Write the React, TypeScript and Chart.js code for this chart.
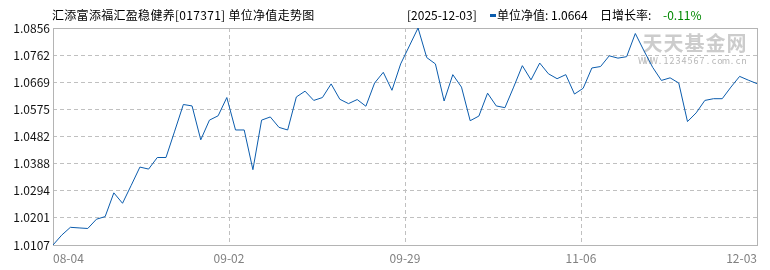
import React, { useEffect, useRef } from 'react';
import { Chart, registerables } from 'chart.js';

Chart.register(...registerables);

// 单位净值 (daily NAV), 2025-08-04 .. 2025-12-03
const navValues = [
  1.0107, 1.0141, 1.0168, 1.0166, 1.0164, 1.0196, 1.0205, 1.0287, 1.0251, 1.0313,
  1.0376, 1.0369, 1.0409, 1.0409, 1.0500, 1.0592, 1.0587, 1.0470, 1.0538, 1.0553,
  1.0616, 1.0504, 1.0504, 1.0367, 1.0538, 1.0549, 1.0513, 1.0504, 1.0618, 1.0638,
  1.0606, 1.0616, 1.0663, 1.0610, 1.0595, 1.0609, 1.0586, 1.0666, 1.0703, 1.0641,
  1.0732, 1.0794, 1.0856, 1.0754, 1.0732, 1.0604, 1.0695, 1.0652, 1.0536, 1.0552,
  1.0631, 1.0587, 1.0581, 1.0652, 1.0726, 1.0677, 1.0735, 1.0698, 1.0681, 1.0695,
  1.0628, 1.0648, 1.0718, 1.0723, 1.0760, 1.0752, 1.0757, 1.0837, 1.0777, 1.0720,
  1.0675, 1.0684, 1.0666, 1.0533, 1.0563, 1.0606, 1.0612, 1.0612, 1.0652, 1.0689,
  1.0676, 1.0664,
];

const xTickLabels = ['08-04', '09-02', '09-29', '11-06', '12-03'];
const yTickLabels = ['1.0107', '1.0201', '1.0294', '1.0388', '1.0482', '1.0575', '1.0669', '1.0762', '1.0856'];

const titleText = '汇添富添福汇盈稳健养[017371] 单位净值走势图';
const headerDate = '[2025-12-03]';
const headerNav = '单位净值: 1.0664';
const headerRateLabel = '日增长率:';
const headerRate = '-0.11%';
const watermarkMain = '天天基金网';
const watermarkSub = 'WWW.1234567.com.cn';

const FONT = '"Noto Sans CJK SC", "Noto Sans", sans-serif';
const LINE_COLOR = '#0b5cad';

const framePlugin = {
  id: 'frame',
  beforeDatasetsDraw(chart: any) {
    const { ctx, chartArea: a } = chart;
    ctx.save();
    ctx.setLineDash([]);
    ctx.strokeStyle = '#b4b4b4';
    ctx.lineWidth = 1;
    ctx.strokeRect(
      Math.round(a.left) + 0.5,
      Math.round(a.top) + 0.5,
      Math.round(a.right - a.left),
      Math.round(a.bottom - a.top)
    );
    ctx.restore();
  },
};

const watermarkPlugin = {
  id: 'watermark',
  beforeDatasetsDraw(chart: any) {
    const { ctx, chartArea: a } = chart;
    ctx.save();
    ctx.textBaseline = 'middle';
    ctx.textAlign = 'center';
    ctx.fillStyle = 'rgba(195,195,195,0.85)';
    ctx.font = `bold 20px ${FONT}`;
    const mainLeft = a.right - 115;
    for (let i = 0; i < watermarkMain.length; i++) {
      ctx.fillText(watermarkMain[i], mainLeft + 10.5 + i * 21, a.top + 15);
    }
    ctx.fillStyle = 'rgba(175,175,175,0.9)';
    ctx.font = `9px ${FONT}`;
    const subLeft = a.right - 118;
    for (let i = 0; i < watermarkSub.length; i++) {
      ctx.fillText(watermarkSub[i], subLeft + 3 + i * 6, a.top + 33);
    }
    ctx.restore();
  },
};

export default function App() {
  const canvasRef = useRef<HTMLCanvasElement | null>(null);

  useEffect(() => {
    const canvas = canvasRef.current;
    if (!canvas) return;
    const lastIndex = navValues.length - 1;
    const yVals = yTickLabels.map((t) => parseFloat(t));
    const chart = new Chart(canvas, {
      type: 'line',
      data: {
        datasets: [
          {
            data: navValues.map((v, i) => ({ x: i, y: v })),
            borderColor: LINE_COLOR,
            borderWidth: 1,
            pointRadius: 0,
            tension: 0,
            fill: false,
          },
        ],
      },
      options: {
        animation: false,
        responsive: false,
        events: [],
        layout: { padding: { left: 0, top: 28, right: 13, bottom: 0 } },
        plugins: { legend: { display: false }, tooltip: { enabled: false } },
        scales: {
          x: {
            type: 'linear',
            min: 0,
            max: lastIndex,
            afterBuildTicks: (s: any) => {
              const n = xTickLabels.length;
              s.ticks = xTickLabels.map((_, i) => ({ value: (lastIndex * i) / (n - 1) }));
            },
            afterFit: (s: any) => {
              s.height = 25;
            },
            grid: { color: '#c0c0c0', lineWidth: 1, drawTicks: false },
            border: { display: false, dash: [4, 3] },
            ticks: {
              callback: (_v: any, i: number) => xTickLabels[i],
              align: 'inner',
              maxRotation: 0,
              autoSkip: false,
              padding: 6,
              color: '#808080',
              font: { family: FONT, size: 12 },
            },
          },
          y: {
            type: 'linear',
            min: yVals[0],
            max: yVals[yVals.length - 1],
            afterBuildTicks: (s: any) => {
              s.ticks = yVals.map((v) => ({ value: v }));
            },
            afterFit: (s: any) => {
              s.width = 53;
            },
            grid: { color: '#c0c0c0', lineWidth: 1, drawTicks: false },
            border: { display: false, dash: [4, 3] },
            ticks: {
              callback: (_v: any, i: number) => yTickLabels[i],
              padding: 3,
              color: '#111',
              font: { family: FONT, size: 12 },
            },
          },
        },
      } as any,
      plugins: [framePlugin, watermarkPlugin],
    });
    return () => chart.destroy();
  }, []);

  const textBase: React.CSSProperties = {
    position: 'absolute',
    top: 7,
    fontFamily: FONT,
    fontSize: 12,
    lineHeight: '16px',
    color: '#000',
    whiteSpace: 'pre',
  };

  return (
    <div style={{ position: 'absolute', left: 0, top: 0, width: 770, height: 270, background: '#fff', overflow: 'hidden' }}>
      <canvas ref={canvasRef} width={770} height={270} style={{ position: 'absolute', left: 0, top: 0, width: 770, height: 270 }} />
      <div style={{ ...textBase, left: 52, letterSpacing: '0.3px' }}>{titleText}</div>
      <div style={{ ...textBase, left: 407 }}>{headerDate}</div>
      <div style={{ position: 'absolute', left: 490, top: 14, width: 6, height: 3, background: LINE_COLOR }} />
      <div style={{ ...textBase, left: 497 }}>{headerNav}</div>
      <div style={{ ...textBase, left: 600 }}>{headerRateLabel}</div>
      <div style={{ ...textBase, left: 663, color: '#008800' }}>{headerRate}</div>
    </div>
  );
}
